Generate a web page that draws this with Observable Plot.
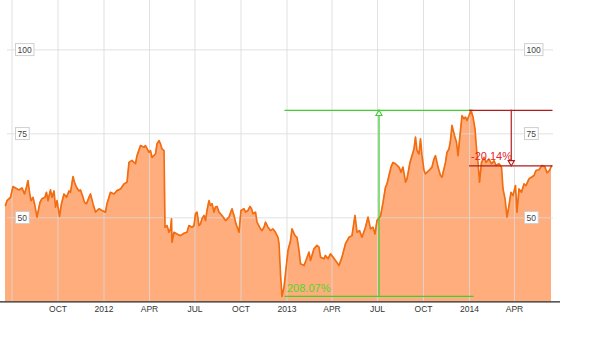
<!DOCTYPE html>
<html><head><meta charset="utf-8">
<script src="https://cdn.jsdelivr.net/npm/d3@7"></script>
<script src="https://cdn.jsdelivr.net/npm/@observablehq/plot@0.6"></script>
<style>
body{margin:0;background:#fff;}
svg{font-family:"Liberation Sans",Arial,sans-serif;}
</style>
</head><body><div id="chart"></div>
<script>
// ---- data ----
const dates = [
"2011-06-18","2011-06-21","2011-06-28","2011-07-03","2011-07-08","2011-07-15","2011-07-21","2011-07-26","2011-07-30","2011-08-02",
"2011-08-05","2011-08-08","2011-08-12","2011-08-15","2011-08-20","2011-08-26","2011-08-30","2011-09-05","2011-09-08","2011-09-11",
"2011-09-16","2011-09-19","2011-09-23","2011-09-26","2011-09-29","2011-10-04","2011-10-08","2011-10-13","2011-10-18","2011-10-23",
"2011-10-26","2011-10-31","2011-11-03","2011-11-07","2011-11-12","2011-11-15","2011-11-20","2011-11-23","2011-11-27","2011-12-02",
"2011-12-05","2011-12-10","2011-12-15","2011-12-22","2011-12-28","2012-01-04","2012-01-07","2012-01-14","2012-01-21","2012-01-27",
"2012-02-03","2012-02-10","2012-02-16","2012-02-20","2012-02-26","2012-03-04","2012-03-07","2012-03-14","2012-03-21","2012-03-24",
"2012-03-31","2012-04-03","2012-04-06","2012-04-13","2012-04-16","2012-04-20","2012-04-23","2012-04-26","2012-04-30","2012-05-02",
"2012-05-06","2012-05-10","2012-05-13","2012-05-15","2012-05-16","2012-05-20","2012-05-26","2012-06-02","2012-06-09","2012-06-15",
"2012-06-19","2012-06-25","2012-06-29","2012-07-02","2012-07-05","2012-07-09","2012-07-12","2012-07-15","2012-07-19","2012-07-22",
"2012-07-25","2012-07-29","2012-08-01","2012-08-04","2012-08-08","2012-08-11","2012-08-14","2012-08-18","2012-08-24","2012-08-31",
"2012-09-07","2012-09-13","2012-09-17","2012-09-21","2012-09-27","2012-10-01","2012-10-07","2012-10-10","2012-10-15","2012-10-19",
"2012-10-22","2012-10-25","2012-10-30","2012-11-02","2012-11-09","2012-11-12","2012-11-16","2012-11-19","2012-11-24","2012-11-29",
"2012-12-04","2012-12-09","2012-12-14","2012-12-16","2012-12-19","2012-12-22","2012-12-26","2012-12-29","2013-01-03","2013-01-08",
"2013-01-11","2013-01-17","2013-01-21","2013-01-25","2013-01-28","2013-02-04","2013-02-08","2013-02-14","2013-02-17","2013-02-24",
"2013-03-02","2013-03-06","2013-03-09","2013-03-16","2013-03-19","2013-03-24","2013-03-29","2013-04-03","2013-04-08","2013-04-15",
"2013-04-21","2013-04-28","2013-05-05","2013-05-11","2013-05-17","2013-05-21","2013-05-26","2013-05-31","2013-06-07","2013-06-12",
"2013-06-17","2013-06-22","2013-06-26","2013-06-30","2013-07-07","2013-07-12","2013-07-17","2013-07-20","2013-07-24","2013-07-28",
"2013-08-01","2013-08-06","2013-08-13","2013-08-17","2013-08-21","2013-08-26","2013-08-29","2013-09-04","2013-09-08","2013-09-12",
"2013-09-15","2013-09-18","2013-09-22","2013-09-25","2013-09-28","2013-10-02","2013-10-05","2013-10-12","2013-10-18","2013-10-22",
"2013-10-25","2013-10-30","2013-11-04","2013-11-07","2013-11-14","2013-11-17","2013-11-21","2013-11-24","2013-11-27","2013-12-02",
"2013-12-06","2013-12-09","2013-12-13","2013-12-17","2013-12-21","2013-12-24","2013-12-27","2013-12-31","2014-01-04","2014-01-08",
"2014-01-12","2014-01-15","2014-01-18","2014-01-21","2014-01-25","2014-01-30","2014-02-03","2014-02-09","2014-02-14","2014-02-19",
"2014-02-23","2014-03-01","2014-03-06","2014-03-09","2014-03-13","2014-03-17","2014-03-21","2014-03-25","2014-03-29","2014-04-03",
"2014-04-06","2014-04-10","2014-04-15","2014-04-20","2014-04-24","2014-04-30","2014-05-05","2014-05-10","2014-05-14","2014-05-20",
"2014-05-26","2014-06-01","2014-06-05","2014-06-10","2014-06-14"
];
const prices = [
53.7,55.1,56.1,59.3,58.9,58.3,58.9,57.1,59.1,61.1,
57.6,55.1,56.1,54.2,50.2,54.6,55.7,56.1,57.6,55.1,
58.3,56.1,58.0,53.2,55.1,50.4,54.2,57.1,56.1,58.0,
57.6,62.3,60.6,59.1,58.0,58.3,56.1,54.6,54.2,56.1,
57.1,54.2,51.7,52.7,52.2,51.7,54.2,57.6,57.1,58.1,
58.6,60.1,60.6,66.5,67.1,66.1,68.5,71.5,71.0,71.5,
69.5,70.0,68.0,69.0,72.0,73.0,72.0,70.5,70.0,47.2,
47.7,45.7,46.7,49.7,42.7,45.7,45.2,44.7,45.4,45.7,
47.7,47.2,47.7,51.2,51.7,47.7,48.2,49.7,50.7,49.2,
52.2,55.1,53.7,54.2,51.7,53.2,53.4,51.7,50.7,49.2,
50.2,52.7,50.7,48.2,45.7,52.2,52.7,51.7,52.2,53.4,
52.7,51.2,51.7,48.7,46.7,46.2,47.2,48.7,47.2,46.2,
46.7,45.7,44.2,42.3,33.3,26.617,29.3,33.3,40.3,43.2,
46.7,44.7,44.2,40.3,36.3,35.8,37.3,39.8,37.3,40.8,
41.8,41.3,38.3,37.8,38.8,37.8,39.3,38.3,37.3,35.8,
38.3,42.3,44.2,44.7,50.7,45.7,46.2,44.2,47.2,50.2,
46.7,47.2,45.2,49.2,50.5,54.5,59.1,60.1,62.6,65.1,
66.5,66.1,65.1,63.6,65.1,60.6,61.6,66.5,68.5,70.5,
74.0,70.0,69.0,73.5,68.5,64.1,63.1,64.1,65.1,67.5,
68.5,65.1,62.6,62.1,66.5,69.5,70.5,73.0,77.5,74.5,
72.5,68.5,74.5,80.4,79.5,80.0,79.0,80.4,82.0,80.0,
76.5,70.5,66.5,60.6,66.5,68.0,66.5,67.5,66.1,67.0,
65.6,66.1,65.1,58.6,55.7,50.2,53.7,57.6,56.6,59.6,
51.7,58.6,57.6,60.1,59.6,61.6,62.1,62.6,64.1,64.3,
65.6,65.1,63.4,64.1,65.485
];
const gridDates = ["2011-07-01","2011-10-01","2012-01-01","2012-04-01","2012-07-01","2012-10-01","2013-01-01","2013-04-01","2013-07-01","2013-10-01","2014-01-01","2014-04-01"];
const tickDates = ["2011-10-01","2012-01-01","2012-04-01","2012-07-01","2012-10-01","2013-01-01","2013-04-01","2013-07-01","2013-10-01","2014-01-01","2014-04-01"];
const tickLabels = ["OCT","2012","APR","JUL","OCT","2013","APR","JUL","OCT","2014","APR"];
const yGrid = [50, 75, 100];
const yLabels = ["50", "75", "100"];

// ---- build ----
const data = dates.map((d, i) => ({date: new Date(d), price: prices[i]}));
const iMin = d3.minIndex(data, d => d.price);
const iMax = d3.maxIndex(data, d => d.price);
const first = data[iMin], peak = data[iMax], last = data[data.length - 1];
const mid = (a, b) => new Date((a.getTime() + b.getTime()) / 2);
const gainPct = ((peak.price / first.price - 1) * 100).toFixed(2) + "%";
const lossPct = ((last.price / peak.price - 1) * 100).toFixed(2) + "%";
const gMid = mid(first.date, peak.date);
const rMid = mid(peak.date, last.date);
const rStart = new Date(peak.date.getTime() - 3 * 86400000);
const rEnd = new Date(last.date.getTime() + 3 * 86400000);

const GREEN = "#44cc33", GREEN_T = "#4fd82a", RED = "#b01c1c", RED_T = "#e2262b";
const LINE = "#f26c10";

const chart = Plot.plot({
  width: 602, height: 360,
  marginLeft: 0, marginRight: 42, marginTop: 0, marginBottom: 58.7,
  x: {type: "utc", domain: [new Date("2011-06-08"), new Date("2014-07-02")], axis: null},
  y: {domain: [25, 114.7], axis: null},
  marks: [
    Plot.areaY(data, {x: "date", y1: 25, y2: "price", fill: "#ff7626", fillOpacity: 0.6}),
    Plot.ruleX(gridDates, {x: d => new Date(d), stroke: "#d9d9d9", strokeOpacity: 0.8}),
    Plot.ruleY(yGrid, {y: d => d, x1: () => new Date("2011-06-22"), x2: () => new Date("2014-06-18"), stroke: "#d9d9d9", strokeOpacity: 0.8}),
    Plot.lineY(data, {x: "date", y: "price", stroke: LINE, strokeWidth: 1.7}),
    Plot.ruleY([25], {stroke: "#222", strokeWidth: 1.2}),
    Plot.text(tickDates, {x: d => new Date(d), text: (d, i) => tickLabels[i], frameAnchor: "bottom", dy: 10, fontSize: 8.5, fill: "#333"}),
    Plot.text(yGrid, {y: d => d, text: (d, i) => yLabels[i], frameAnchor: "left", dx: 17, textAnchor: "start", fontSize: 8.5, fill: "#444", ariaDescription: "ylab"}),
    Plot.text(yGrid, {y: d => d, text: (d, i) => yLabels[i], frameAnchor: "right", dx: -34, textAnchor: "start", fontSize: 8.5, fill: "#444", ariaDescription: "ylab"}),
    // green gain annotation
    Plot.ruleY([first], {y: "price", x1: () => first.date, x2: () => peak.date, stroke: GREEN, strokeWidth: 1.2, dx: 3}),
    Plot.ruleY([peak], {y: "price", x1: () => first.date, x2: () => peak.date, stroke: GREEN, strokeWidth: 1.2, dx: 3}),
    Plot.ruleX([gMid], {x: d => d, y1: () => first.price, y2: () => peak.price, stroke: GREEN, strokeWidth: 1.3, dx: 2.5}),
    Plot.dot([gMid], {x: d => d, y: () => peak.price, symbol: "triangle", r: 2.3, fill: "white", stroke: GREEN, strokeWidth: 1.1, dx: 2.5, dy: 3.4}),
    Plot.text([first], {x: "date", y: "price", text: () => gainPct, textAnchor: "start", dx: 5, dy: -8, fontSize: 11, fill: GREEN_T}),
    // red loss annotation
    Plot.ruleY([peak], {y: "price", x1: () => rStart, x2: () => rEnd, stroke: RED, strokeWidth: 1.2}),
    Plot.ruleY([last], {y: "price", x1: () => rStart, x2: () => rEnd, stroke: RED, strokeWidth: 1.2}),
    Plot.ruleX([rMid], {x: d => d, y1: () => peak.price, y2: () => last.price, stroke: RED, strokeWidth: 1.2}),
    Plot.dot([rMid], {x: d => d, y: () => last.price, symbol: "triangle", rotate: 180, r: 2.3, fill: "white", stroke: RED, strokeWidth: 1.1, dy: -3.4}),
    Plot.text([peak], {x: "date", y: () => last.price, text: () => lossPct, textAnchor: "start", dx: 0, dy: -9, fontSize: 11, fill: RED_T})
  ]
});
document.getElementById("chart").appendChild(chart);

// boxes behind the y-axis value labels
const ns = "http://www.w3.org/2000/svg";
chart.querySelectorAll('g[aria-description="ylab"] text').forEach(t => {
  const b = t.getBBox();
  const r = document.createElementNS(ns, "rect");
  r.setAttribute("x", b.x - 2);
  r.setAttribute("y", b.y - 1);
  r.setAttribute("width", b.width + 4);
  r.setAttribute("height", b.height + 2);
  r.setAttribute("fill", "white");
  r.setAttribute("stroke", "#cfcfcf");
  r.setAttribute("stroke-width", "1");
  const tr = t.getAttribute("transform");
  if (tr) r.setAttribute("transform", tr);
  t.parentNode.insertBefore(r, t);
});
</script>
</body></html>
